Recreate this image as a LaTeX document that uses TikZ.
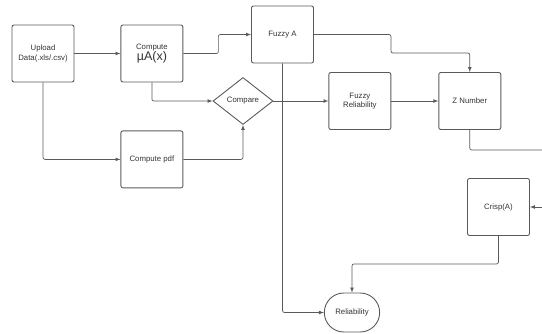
\documentclass[tikz,border=0pt]{standalone}
\usepackage{fontspec}
\setmainfont{Liberation Sans}
\usepackage{tikz}
\usetikzlibrary{positioning, shapes.geometric, shapes.misc, arrows}

\definecolor{linegray}{HTML}{5A5A5A}
\definecolor{textgray}{HTML}{333333}

\begin{document}
\begin{tikzpicture}[x=1pt, y=-1pt, line width=0.7pt,
    every node/.style={text=textgray, font=\fontsize{7.8}{9.3}\selectfont},
    blk/.style={draw=linegray, line width=0.9pt, rounded corners=2pt, align=center,
        minimum width=62pt, minimum height=57pt, inner sep=1pt},
    decide/.style={draw=linegray, line width=0.9pt, diamond, minimum width=60pt,
        minimum height=47pt, inner sep=0pt},
    ending/.style={draw=linegray, line width=0.9pt, rounded rectangle,
        minimum width=62pt, minimum height=39pt},
    link/.style={draw=linegray, rounded corners=2pt}]
    \useasboundingbox (0,0) rectangle (542,333);

    % top row
    \node[blk] (upload) at (43,53.5) {Upload\\Data(.xls/.csv)};
    \node[blk, right=46pt of upload] (mu) {Compute\\{\fontsize{12.5}{14}\selectfont µA(x)}};
    \node[blk] (fuzzya) at (282.5,34.5) {Fuzzy A};

    % middle row
    \node[decide] (compare) at (243,101) {Compare};
    \node[blk, right=55pt of compare] (fuzzyrel) {Fuzzy\\Reliability};
    \node[blk, right=47pt of fuzzyrel] (znum) {Z Number};
    \node[blk, below=48pt of mu] (pdf) {Compute pdf};

    % bottom
    \node[blk] (crisp) at (498.5,207) {Crisp(A)};
    \node[ending] (rel) at (352,312.5) {Reliability};

    \coordinate (fzbend) at (391,53);
    \coordinate (zout) at (542,150);
    \coordinate (cin) at (542,207);

    \draw [-latex,link] (upload) -- (mu);
    \draw [-latex,link] (mu.east) -- ++(35,0) |- (fuzzya.west);
    \draw [-latex,link] (mu.south) |- (compare.west);
    \draw [-latex,link] (upload.south) |- (pdf.west);
    \draw [-latex,link] (pdf.east) -| (compare.south);
    \draw [-latex,link] (compare) -- (fuzzyrel);
    \draw [-latex,link] (fuzzyrel) -- (znum);
    \draw [-latex,link] (fuzzya.east) -| (fzbend) -| (znum.north);
    \draw [link] (znum.south) |- (zout);
    \draw [-latex,link] (cin) -- (crisp.east);
    \draw [-latex,link] (crisp.south) -- ++(0,28) -| (rel.north);
    \draw [-latex,link] (fuzzya.south) |- (rel.west);
\end{tikzpicture}
\end{document}
